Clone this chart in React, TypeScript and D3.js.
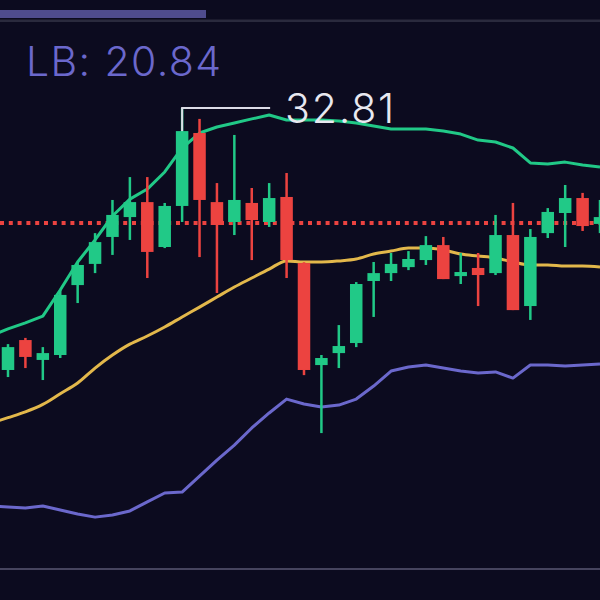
import React from "react";
import * as d3 from "d3";

// Candles (index 0..34)
const opens = [20.56, 21.96, 21.03, 21.26, 24.53, 25.52, 26.78, 27.71, 28.41, 26.31, 28.23, 31.64, 28.41, 27.48, 28.37, 27.48, 28.65, 25.56, 20.79, 21.35, 21.82, 24.72, 25.09, 25.37, 25.70, 26.40, 24.95, 25.33, 25.09, 26.87, 23.55, 26.96, 27.90, 28.60, 27.39];
const highs = [21.77, 22.06, 21.63, 24.30, 25.56, 26.96, 28.51, 29.58, 29.58, 28.37, 32.81, 32.30, 29.30, 31.55, 29.07, 29.30, 29.77, 25.60, 21.26, 22.66, 24.67, 25.61, 26.03, 26.12, 26.82, 26.78, 26.03, 26.03, 27.81, 28.37, 27.15, 28.13, 29.21, 28.84, 28.51];
const lows = [20.23, 20.65, 20.09, 21.12, 23.69, 25.09, 25.94, 26.64, 24.86, 26.26, 27.48, 25.84, 24.16, 26.87, 25.70, 27.25, 24.86, 20.32, 17.61, 20.65, 21.63, 23.04, 24.72, 25.23, 25.47, 24.81, 24.58, 23.55, 25.00, 23.36, 22.90, 26.73, 26.31, 27.06, 26.96];
const closes = [21.63, 21.17, 21.35, 24.07, 25.47, 26.54, 27.81, 28.41, 26.08, 28.23, 31.73, 28.51, 27.34, 28.51, 27.57, 28.60, 25.70, 20.56, 21.12, 21.68, 24.58, 25.09, 25.52, 25.75, 26.40, 24.81, 25.14, 25.00, 26.87, 23.36, 26.78, 27.95, 28.60, 27.29, 27.71];

// Bands (index -1..34)
const upperBand = [22.15, 22.48, 22.76, 23.08, 24.30, 25.61, 26.64, 27.76, 28.55, 29.02, 29.82, 30.94, 31.64, 31.92, 32.11, 32.30, 32.48, 32.25, 32.25, 32.25, 32.20, 32.11, 31.97, 31.83, 31.83, 31.83, 31.73, 31.59, 31.31, 31.22, 30.94, 30.24, 30.19, 30.28, 30.14, 30.05];
const middleBand = [18.07, 18.33, 18.60, 18.95, 19.45, 19.95, 20.65, 21.26, 21.77, 22.15, 22.57, 23.04, 23.50, 23.97, 24.44, 24.86, 25.28, 25.66, 25.61, 25.61, 25.66, 25.75, 25.98, 26.12, 26.26, 26.26, 26.17, 25.98, 25.89, 25.80, 25.61, 25.47, 25.47, 25.42, 25.42, 25.38];
const lowerBand = [14.20, 14.15, 14.11, 14.20, 14.01, 13.83, 13.68, 13.78, 13.97, 14.39, 14.81, 14.85, 15.60, 16.35, 17.05, 17.85, 18.55, 19.20, 18.97, 18.83, 18.92, 19.20, 19.81, 20.51, 20.70, 20.79, 20.65, 20.51, 20.42, 20.47, 20.18, 20.79, 20.79, 20.75, 20.79, 20.84];

const lastPrice = 27.43;
const maxLabel = "32.81";
const lbLabel = "LB: 20.84";

const BG = "#0c0b1f";
const GREEN = "#21c987";
const RED = "#ec4340";
const GOLD = "#e3b84b";
const PURPLE = "#6b68cc";

export default function App() {
  const W = 600, H = 600;
  const x = d3.scaleLinear().domain([0, 34]).range([8, 600]);
  const y = d3.scaleLinear().domain([20.84, 32.81]).range([364, 108]);

  const bandLine = (vals: number[], curve: d3.CurveFactory) =>
    d3.line<number>()
      .x((_, i) => x(i - 1))
      .y((d) => y(d))
      .curve(curve)(vals) || "";

  const maxIdx = d3.maxIndex(highs);
  const mx = x(maxIdx);
  const my = y(highs[maxIdx]);
  const bodyW = 12.5;

  return (
    <svg width={W} height={H} style={{ position: "absolute", left: 0, top: 0, background: BG }}>
      <rect x={0} y={0} width={W} height={H} fill={BG} />
      <rect x={0} y={19.5} width={W} height={2.5} fill="#2a2a3d" />
      <rect x={0} y={10} width={206} height={8} fill="#4f4c8e" />
      <rect x={0} y={568} width={W} height={2} fill="#46445e" />

      <text x={26} y={76} fill={PURPLE} fontFamily="Inter, 'Open Sans', sans-serif" fontWeight={300} fontSize={41} letterSpacing={1.4}>{lbLabel}</text>

      <line x1={0} x2={W} y1={y(lastPrice)} y2={y(lastPrice)} stroke={RED} strokeWidth={4} strokeDasharray="4 4.8" />

      <path d={bandLine(upperBand, d3.curveLinear)} fill="none" stroke={GREEN} strokeWidth={3} strokeLinejoin="round" />
      <path d={bandLine(middleBand, d3.curveMonotoneX)} fill="none" stroke={GOLD} strokeWidth={3} />
      <path d={bandLine(lowerBand, d3.curveLinear)} fill="none" stroke={PURPLE} strokeWidth={3} strokeLinejoin="round" />

      {opens.map((o, i) => {
        const c = closes[i];
        const up = c >= o;
        const col = up ? GREEN : RED;
        const top = y(Math.max(o, c));
        const bot = y(Math.min(o, c));
        return (
          <g key={i}>
            <rect x={x(i) - 1.25} y={y(highs[i])} width={2.5} height={y(lows[i]) - y(highs[i])} fill={col} />
            <rect x={x(i) - bodyW / 2} y={top} width={bodyW} height={Math.max(2, bot - top)} fill={col} />
          </g>
        );
      })}

      <line x1={mx} x2={mx} y1={my} y2={y(Math.max(opens[maxIdx], closes[maxIdx]))} stroke="#dcdce6" strokeWidth={2} />
      <line x1={mx - 1} x2={mx + 88} y1={my} y2={my} stroke="#dcdce6" strokeWidth={2} />
      <text x={mx + 103} y={my + 15} fill="#e8e8f0" fontFamily="Inter, 'Open Sans', sans-serif" fontWeight={300} fontSize={41} letterSpacing={1.8}>{maxLabel}</text>
    </svg>
  );
}
